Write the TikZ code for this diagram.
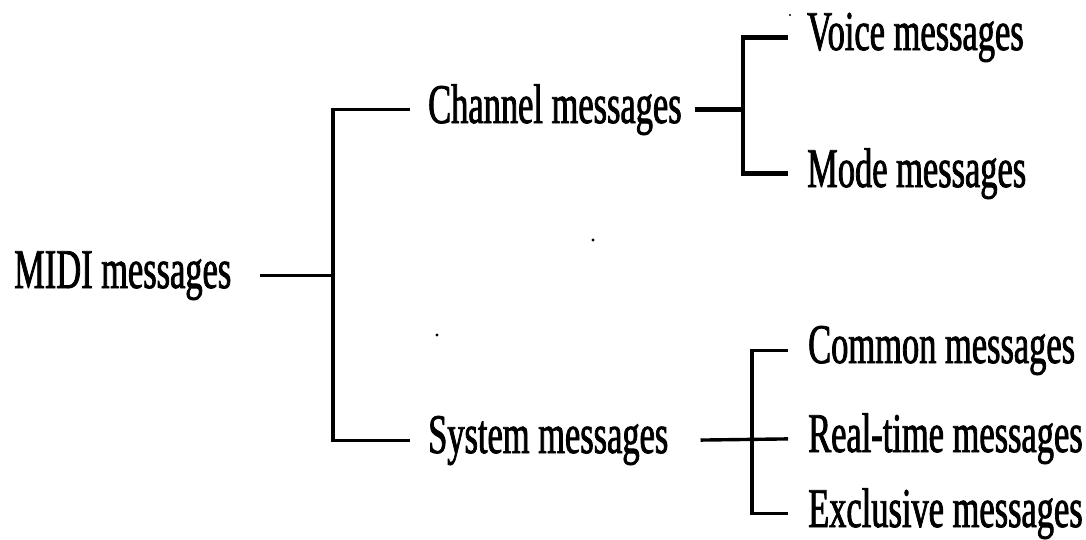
\documentclass[tikz,border=0pt]{standalone}
\usepackage{fontspec}
\setmainfont{Liberation Serif}[FakeStretch=0.615,FakeBold=1.4]
\begin{document}
\begin{tikzpicture}[x=1pt,y=-1pt,
  label/.style={anchor=base west,inner sep=0pt,font=\fontsize{56}{60}\selectfont},
  tree/.style={line width=3.4pt,line cap=butt},
  heavy/.style={line width=4.8pt,line cap=butt}]
\useasboundingbox (0,0) rectangle (1086,539);

% message classes
\node[label] (midi)   at (14,288)  {MIDI messages};
\node[label] (chan)   at (428,123) {Channel messages};
\node[label] (sys)    at (428,453) {System messages};
\node[label] (voice)  at (807,50)  {Voice messages};
\node[label] (mode)   at (807,187) {Mode messages};
\node[label] (common) at (808,363) {Common messages};
\node[label] (rt)     at (808,452) {Real-time messages};
\node[label] (excl)   at (808,527) {Exclusive messages};

% junction columns
\coordinate (j1) at (333,0);
\coordinate (j2) at (743,0);
\coordinate (j3) at (752,0);

% MIDI -> channel / system
\draw[tree,shorten <=28pt] (midi.east) -- (midi.east -| j1);
\draw[tree] ([yshift=-1.7pt]j1 |- chan.west) -- ([yshift=1.7pt]j1 |- sys.west);
\draw[tree,shorten >=18pt] ([xshift=-1.7pt]j1 |- chan.west) -- (chan.west);
\draw[tree,shorten >=18pt] ([xshift=-1.7pt]j1 |- sys.west) -- (sys.west);

% channel -> voice / mode
\draw[heavy,shorten <=13pt] (chan.east) -- (chan.east -| j2);
\draw[tree] ([yshift=-2.4pt]j2 |- voice.west) -- ([yshift=2.4pt]j2 |- mode.west);
\draw[heavy,shorten >=19pt] ([xshift=-1.7pt]j2 |- voice.west) -- (voice.west);
\draw[heavy,shorten >=19pt] ([xshift=-1.7pt]j2 |- mode.west) -- (mode.west);

% system -> common / real-time / exclusive
\draw[tree,shorten <=32pt,shorten >=20pt] (sys.east) -- (rt.west);
\draw[tree] ([yshift=-1.7pt]j3 |- common.west) -- ([yshift=1.7pt]j3 |- excl.west);
\draw[tree,shorten >=20pt] ([xshift=-1.7pt]j3 |- common.west) -- (common.west);
\draw[tree,shorten >=20pt] ([xshift=-1.7pt]j3 |- excl.west) -- (excl.west);

% specks
\fill (593,240) circle (1.6);
\fill (437,335) circle (1.6);
\fill (790,15) circle (1.2);
\end{tikzpicture}
\end{document}
